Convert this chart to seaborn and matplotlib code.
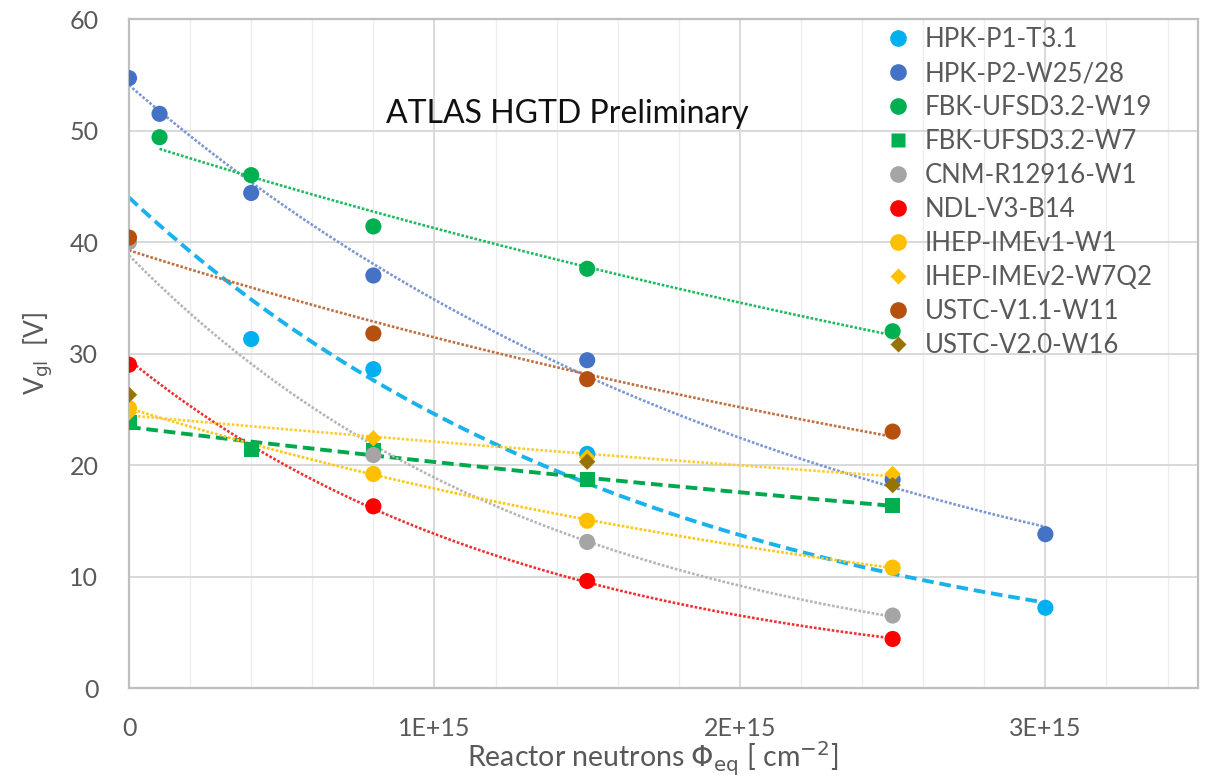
import numpy as np
import pandas as pd
import matplotlib
matplotlib.use("Agg")
import matplotlib.pyplot as plt
import seaborn as sns
from matplotlib.ticker import MultipleLocator, FuncFormatter
from matplotlib.lines import Line2D

# ---------------- data (fluence in units of 1e15 n/cm^2) ----------------
hpk_p1_x = [0.4, 0.8, 1.5, 3.0]
hpk_p1_y = [31.3, 28.6, 21.0, 7.2]
hpk_p2_x = [0.0, 0.1, 0.4, 0.8, 1.5, 2.5, 3.0]
hpk_p2_y = [54.7, 51.5, 44.4, 37.0, 29.4, 18.7, 13.8]
fbk_w19_x = [0.1, 0.4, 0.8, 1.5, 2.5]
fbk_w19_y = [49.4, 46.0, 41.4, 37.6, 32.0]
fbk_w7_x = [0.0, 0.4, 0.8, 1.5, 2.5]
fbk_w7_y = [23.8, 21.4, 21.3, 18.7, 16.4]
cnm_x = [0.0, 0.8, 1.5, 2.5]
cnm_y = [40.0, 20.9, 13.1, 6.5]
ndl_x = [0.0, 0.8, 1.5, 2.5]
ndl_y = [29.0, 16.3, 9.6, 4.4]
ihep1_x = [0.0, 0.8, 1.5, 2.5]
ihep1_y = [25.1, 19.2, 15.0, 10.8]
ihep2_x = [0.0, 0.8, 1.5, 2.5]
ihep2_y = [24.7, 22.4, 20.7, 19.2]
ustc11_x = [0.0, 0.8, 1.5, 2.5]
ustc11_y = [40.4, 31.8, 27.7, 23.0]
ustc20_x = [0.0, 1.5, 2.5]
ustc20_y = [26.3, 20.3, 18.2]

names = ["HPK-P1-T3.1", "HPK-P2-W25/28", "FBK-UFSD3.2-W19", "FBK-UFSD3.2-W7",
         "CNM-R12916-W1", "NDL-V3-B14", "IHEP-IMEv1-W1", "IHEP-IMEv2-W7Q2",
         "USTC-V1.1-W11", "USTC-V2.0-W16"]
xs = [hpk_p1_x, hpk_p2_x, fbk_w19_x, fbk_w7_x, cnm_x, ndl_x, ihep1_x, ihep2_x, ustc11_x, ustc20_x]
ys = [hpk_p1_y, hpk_p2_y, fbk_w19_y, fbk_w7_y, cnm_y, ndl_y, ihep1_y, ihep2_y, ustc11_y, ustc20_y]

# ---------------- styles ----------------
colors = ["#00B0F0", "#4472C4", "#00B050", "#00B050", "#A5A5A5", "#FF0000",
          "#FFC000", "#FFC000", "#B5500F", "#997300"]
trend_colors = ["#1AB2EC", "#7A96D4", "#1DBA5E", "#00A84C", "#B5B5B5", "#F03030",
                "#FFC61A", "#FFCC33", "#C07040", None]
markers = ["o", "o", "o", "s", "o", "o", "o", "D", "o", "D"]
msizes = [135, 135, 135, 120, 135, 135, 135, 70, 135, 70]
trend_style = ["dashed", "dotted", "dotted", "dashed", "dotted", "dotted",
               "dotted", "dotted", "dotted", None]
trend_start = [0.0, None, None, None, None, None, None, None, None, None]

rows = []
for n, x, y in zip(names, xs, ys):
    for xi, yi in zip(x, y):
        rows.append({"series": n, "phi": xi * 1e15, "v": yi})
df = pd.DataFrame(rows)

sns.set_theme(style="white")
plt.rcParams['font.family'] = ['Lato', 'DejaVu Sans']

fig = plt.figure(figsize=(12.09, 7.77), dpi=100)
ax = fig.add_axes([0.1067, 0.1145, 0.8843, 0.861])

# trend lines (exponential fits, like Excel trendlines)
for i, (n, x, y) in enumerate(zip(names, xs, ys)):
    st = trend_style[i]
    if st is None:
        continue
    xa = np.array(x); ya = np.array(y)
    b, a = np.polyfit(xa, np.log(ya), 1)
    x0 = trend_start[i] if trend_start[i] is not None else xa.min()
    xx = np.linspace(x0, xa.max(), 200)
    yy = np.exp(a + b * xx)
    if st == "dashed":
        ax.plot(xx * 1e15, yy, color=trend_colors[i], lw=2.8, ls=(0, (3, 1.5)), zorder=2)
    else:
        ax.plot(xx * 1e15, yy, color=trend_colors[i], lw=1.9, ls=(0, (1, 0.7)), zorder=2)

sns.scatterplot(data=df, x="phi", y="v", hue="series", style="series", size="series",
                hue_order=names, style_order=names, size_order=names,
                palette=dict(zip(names, colors)),
                markers=dict(zip(names, markers)),
                sizes=dict(zip(names, msizes)),
                edgecolor="none", linewidth=0, ax=ax, legend=False, zorder=3)

ax.set_xlim(0, 3.5e15)
ax.set_ylim(0, 60)
ax.xaxis.set_major_locator(MultipleLocator(1e15))
ax.xaxis.set_minor_locator(MultipleLocator(0.2e15))
ax.yaxis.set_major_locator(MultipleLocator(10))

def fmt(v, pos):
    if abs(v) < 1:
        return "0"
    return "%dE+15" % round(v / 1e15)
ax.xaxis.set_major_formatter(FuncFormatter(fmt))

ax.grid(which="major", axis="both", color="#D9D9D9", lw=1.4)
ax.grid(which="minor", axis="x", color="#EDEDED", lw=1.0)
ax.set_axisbelow(True)
for s in ax.spines.values():
    s.set_color("#BFBFBF")
    s.set_linewidth(1.6)

ax.tick_params(axis="both", which="both", length=0, labelsize=18, labelcolor="#595959")
ax.tick_params(axis="x", pad=21)
ax.tick_params(axis="y", pad=22)

ax.set_xlabel(r"Reactor neutrons $\Phi_{\mathrm{eq}}$ [ cm$^{-2}$]", fontsize=20.5, color="#595959")
ax.xaxis.set_label_coords(0.49, -0.077)
ax.set_ylabel(r"V$_{\mathrm{gl}}$  [V]", fontsize=19, color="#595959", labelpad=10)

ax.text(0.84e15, 51.5, "ATLAS HGTD Preliminary", fontsize=23, color="#111111", va="center")

handles = [Line2D([0], [0], marker=m, color="none", markerfacecolor=c, markeredgecolor="none",
                  markersize=(12 if m == "o" else (10.5 if m == "s" else 8.5)))
           for c, m in zip(colors, markers)]
leg = ax.legend(handles, names, loc="upper left", bbox_to_anchor=(0.69, 1.011), frameon=False,
                fontsize=18.5, labelspacing=0.35, handletextpad=0.45, handlelength=1.2,
                borderaxespad=0.2)
for t in leg.get_texts():
    t.set_color("#595959")

fig.savefig("out.png", dpi=100)
